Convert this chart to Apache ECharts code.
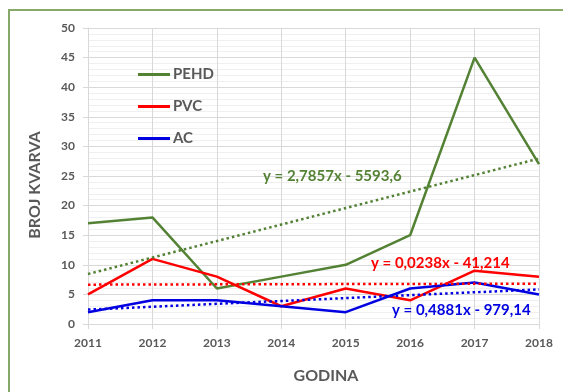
<!DOCTYPE html>
<html>
<head>
<meta charset="utf-8">
<script src="https://cdn.jsdelivr.net/npm/echarts@6/dist/echarts.min.js"></script>
<style>
  html, body { margin: 0; padding: 0; background: #fff; }
  #frame { position: absolute; left: 0; top: 0; width: 563px; height: 392px; overflow: hidden; }
  #edge { position: absolute; left: 8px; top: 9px; width: 600px; height: 420px;
          border-left: 2px solid #86a96a; border-top: 2px solid #86a96a; box-sizing: border-box; }
  #chart { position: absolute; left: 0; top: 0; width: 563px; height: 392px; }
</style>
</head>
<body>
<div id="frame">
  <div id="edge"></div>
  <div id="chart"></div>
</div>
<script>
// Years and number of failures per pipe material
const years = [2011, 2012, 2013, 2014, 2015, 2016, 2017, 2018];
const pehd  = [17, 18, 6, 8, 10, 15, 45, 27];
const pvc   = [5, 11, 8, 3, 6, 4, 9, 8];
const ac    = [2, 4, 4, 3, 2, 6, 7, 5];

// Linear trend coefficients (y = slope * year + intercept)
const trendSlope     = [2.7857, 0.0238, 0.4881];
const trendIntercept = [-5593.6, -41.214, -979.14];
const trendText = ['y = 2,7857x - 5593,6', 'y = 0,0238x - 41,214', 'y = 0,4881x - 979,14'];

const names  = ['PEHD', 'PVC', 'AC'];
const colors = ['#548235', '#ff0000', '#0000e0'];
const FONT = 'Lato, "Open Sans", sans-serif';
const GREY = '#595959';

const values = [pehd, pvc, ac];
const pairs = v => years.map((y, i) => [y, v[i]]);
const trend = k => [years[0], years[years.length - 1]].map(x => [x, trendSlope[k] * x + trendIntercept[k]]);

const series = [];
names.forEach((n, k) => {
  series.push({
    name: n, type: 'line', data: pairs(values[k]), symbol: 'none',
    lineStyle: { color: colors[k], width: 2.5 }, itemStyle: { color: colors[k] }, z: 3
  });
});
names.forEach((n, k) => {
  series.push({
    name: n + ' trend', type: 'line', data: trend(k), symbol: 'none', silent: true,
    lineStyle: { color: colors[k], width: 2.5, type: [2.5, 3] }, z: 4
  });
});

const chart = echarts.init(document.getElementById('chart'), null, { renderer: 'canvas' });
chart.setOption({
  animation: false,
  backgroundColor: 'transparent',
  grid: { left: 88, right: 24, top: 28, bottom: 68 },
  legend: {
    data: names.map((n, k) => ({ name: n, icon: 'rect', itemStyle: { color: colors[k] } })),
    orient: 'vertical', left: 133, top: 62,
    itemWidth: 32, itemHeight: 3, itemGap: 17,
    textStyle: { fontFamily: FONT, fontWeight: 'bold', fontSize: 15, color: GREY, padding: [0, 0, 0, -2] }
  },
  xAxis: {
    type: 'value', min: 2011, max: 2018, interval: 1,
    axisLine: { show: true, lineStyle: { color: '#d9d9d9', width: 1 } },
    axisTick: { show: true, length: 5, lineStyle: { color: '#d9d9d9' } },
    splitLine: { show: true, lineStyle: { color: '#d9d9d9', width: 1 } },
    axisLabel: { formatter: v => String(v), fontFamily: FONT, fontWeight: 'bold', fontSize: 12, color: GREY, margin: 13 }
  },
  yAxis: {
    type: 'value', min: 0, max: 50, interval: 5,
    axisLine: { show: true, lineStyle: { color: '#d9d9d9', width: 1 } },
    axisTick: { show: true, length: 5, lineStyle: { color: '#d9d9d9' } },
    splitLine: { show: true, lineStyle: { color: '#d9d9d9', width: 1 } },
    minorTick: { show: false, splitNumber: 5 },
    minorSplitLine: { show: true, lineStyle: { color: '#f0f0f0', width: 1 } },
    axisLabel: { fontFamily: FONT, fontWeight: 'bold', fontSize: 12, color: GREY, margin: 13 }
  },
  graphic: [
    { type: 'text', rotation: Math.PI / 2, x: 35, y: 185,
      style: { text: 'BROJ KVARVA', fontFamily: FONT, fontWeight: 'bold', fontSize: 16, fill: GREY,
               textAlign: 'center', textVerticalAlign: 'middle' } },
    { type: 'text', x: 326, y: 376,
      style: { text: 'GODINA', fontFamily: FONT, fontWeight: 'bold', fontSize: 16, fill: GREY,
               textAlign: 'center', textVerticalAlign: 'middle' } },
    { type: 'text', x: 263, y: 176, z: 10,
      style: { text: trendText[0], fontFamily: FONT, fontWeight: 'bold', fontSize: 15, fill: colors[0],
               textAlign: 'left', textVerticalAlign: 'middle' } },
    { type: 'text', x: 371, y: 263, z: 10,
      style: { text: trendText[1], fontFamily: FONT, fontWeight: 'bold', fontSize: 15, fill: colors[1],
               textAlign: 'left', textVerticalAlign: 'middle' } },
    { type: 'text', x: 392, y: 310, z: 10,
      style: { text: trendText[2], fontFamily: FONT, fontWeight: 'bold', fontSize: 15, fill: colors[2],
               textAlign: 'left', textVerticalAlign: 'middle' } }
  ],
  series: series
});
</script>
</body>
</html>
